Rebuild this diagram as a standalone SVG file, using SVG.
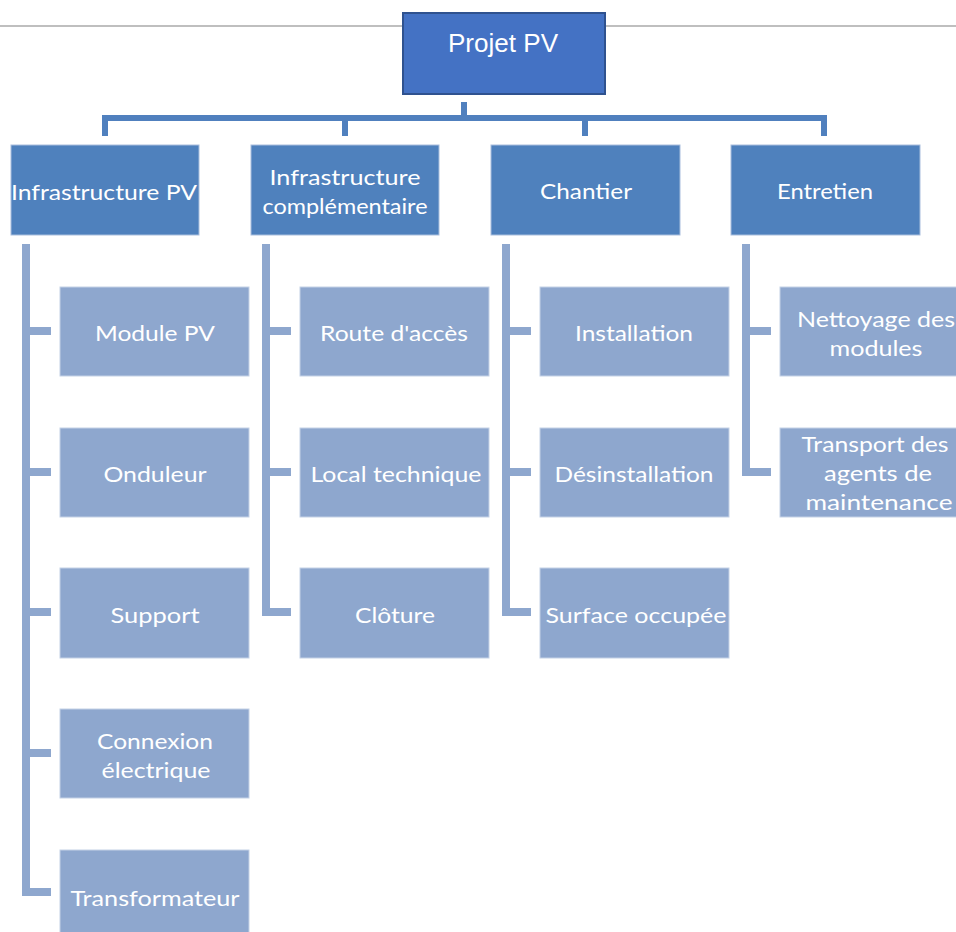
<svg xmlns="http://www.w3.org/2000/svg" width="956" height="932" viewBox="0 0 956 932">
<style>
.l1 { fill: #4F81BD; stroke: #A9BEDD; stroke-width: 1; }
.l2 { fill: #8EA7CE; stroke: #C4D1E6; stroke-width: 1; }
.t { font-family: Lato, "Open Sans", "Liberation Sans", sans-serif; font-size: 21px; fill: #FFFFFF; text-anchor: middle; }
.top { fill: none; stroke: #5080BE; stroke-width: 6; stroke-linecap: butt; stroke-linejoin: miter; }
.sp { fill: none; stroke: #8EA7CE; stroke-width: 8; stroke-linecap: butt; stroke-linejoin: miter; }
</style>
<rect x="0" y="0" width="956" height="932" fill="#FFFFFF"/>
<line x1="0" y1="26" x2="956" y2="26" stroke="#BFBFBF" stroke-width="2"/>

<g id="connectors">
  <path class="top" d="M464 102 V118 M105 136 V118 H824 V136 M345 118 V136 M585 118 V136"/>
  <path class="sp" d="M26 244 V892 H51 M26 331 H51 M26 472 H51 M26 612 H51 M26 753 H51"/>
  <path class="sp" d="M266 244 V612 H291 M266 331 H291 M266 472 H291"/>
  <path class="sp" d="M506 244 V612 H531 M506 331 H531 M506 472 H531"/>
  <path class="sp" d="M746 244 V472 H771 M746 331 H771"/>
</g>

<g id="root">
  <rect x="403" y="13" width="202" height="81" fill="#4472C4" stroke="#2F528F" stroke-width="2"/>
  <text x="503" y="52" font-family="Liberation Sans, Arial, sans-serif" font-size="25" fill="#FFFFFF" text-anchor="middle" textLength="110" lengthAdjust="spacingAndGlyphs">Projet PV</text>
</g>

<g id="infra-pv">
  <rect class="l1" x="11" y="145" width="188" height="90"/>
  <text class="t" x="104" y="200" textLength="186" lengthAdjust="spacingAndGlyphs">Infrastructure PV</text>
</g>
<g id="infra-comp">
  <rect class="l1" x="251" y="145" width="188" height="90"/>
  <text class="t" x="345" y="185" textLength="151" lengthAdjust="spacingAndGlyphs">Infrastructure</text>
  <text class="t" x="345" y="214" textLength="165" lengthAdjust="spacingAndGlyphs">complémentaire</text>
</g>
<g id="chantier">
  <rect class="l1" x="491" y="145" width="189" height="90"/>
  <text class="t" x="586" y="199" textLength="92" lengthAdjust="spacingAndGlyphs">Chantier</text>
</g>
<g id="entretien">
  <rect class="l1" x="731" y="145" width="189" height="90"/>
  <text class="t" x="825" y="199" textLength="96" lengthAdjust="spacingAndGlyphs">Entretien</text>
</g>

<g id="module-pv">
  <rect class="l2" x="60" y="287" width="189" height="89"/>
  <text class="t" x="155" y="341" textLength="120" lengthAdjust="spacingAndGlyphs">Module PV</text>
</g>
<g id="onduleur">
  <rect class="l2" x="60" y="428" width="189" height="89"/>
  <text class="t" x="155" y="482" textLength="103" lengthAdjust="spacingAndGlyphs">Onduleur</text>
</g>
<g id="support">
  <rect class="l2" x="60" y="568" width="189" height="90"/>
  <text class="t" x="155" y="623" textLength="89" lengthAdjust="spacingAndGlyphs">Support</text>
</g>
<g id="connexion">
  <rect class="l2" x="60" y="709" width="189" height="89"/>
  <text class="t" x="155" y="749" textLength="116" lengthAdjust="spacingAndGlyphs">Connexion</text>
  <text class="t" x="156" y="778" textLength="109" lengthAdjust="spacingAndGlyphs">électrique</text>
</g>
<g id="transformateur">
  <rect class="l2" x="60" y="850" width="189" height="90"/>
  <text class="t" x="155" y="906" textLength="169" lengthAdjust="spacingAndGlyphs">Transformateur</text>
</g>

<g id="route">
  <rect class="l2" x="300" y="287" width="189" height="89"/>
  <text class="t" x="394" y="341" textLength="148" lengthAdjust="spacingAndGlyphs">Route d'accès</text>
</g>
<g id="local">
  <rect class="l2" x="300" y="428" width="189" height="89"/>
  <text class="t" x="396" y="482" textLength="171" lengthAdjust="spacingAndGlyphs">Local technique</text>
</g>
<g id="cloture">
  <rect class="l2" x="300" y="568" width="189" height="90"/>
  <text class="t" x="395" y="623" textLength="80" lengthAdjust="spacingAndGlyphs">Clôture</text>
</g>

<g id="installation">
  <rect class="l2" x="540" y="287" width="189" height="89"/>
  <text class="t" x="634" y="341" textLength="118" lengthAdjust="spacingAndGlyphs">Installation</text>
</g>
<g id="desinstallation">
  <rect class="l2" x="540" y="428" width="189" height="89"/>
  <text class="t" x="634" y="482" textLength="159" lengthAdjust="spacingAndGlyphs">Désinstallation</text>
</g>
<g id="surface">
  <rect class="l2" x="540" y="568" width="189" height="90"/>
  <text class="t" x="636" y="623" textLength="181" lengthAdjust="spacingAndGlyphs">Surface occupée</text>
</g>

<g id="nettoyage">
  <rect class="l2" x="780" y="287" width="189" height="89"/>
  <text class="t" x="876" y="327" textLength="158" lengthAdjust="spacingAndGlyphs">Nettoyage des</text>
  <text class="t" x="876" y="356" textLength="93" lengthAdjust="spacingAndGlyphs">modules</text>
</g>
<g id="transport">
  <rect class="l2" x="780" y="428" width="189" height="89"/>
  <text class="t" x="875" y="452" textLength="147" lengthAdjust="spacingAndGlyphs">Transport des</text>
  <text class="t" x="878" y="481" textLength="108" lengthAdjust="spacingAndGlyphs">agents de</text>
  <text class="t" x="879" y="510" textLength="147" lengthAdjust="spacingAndGlyphs">maintenance</text>
</g>
</svg>
